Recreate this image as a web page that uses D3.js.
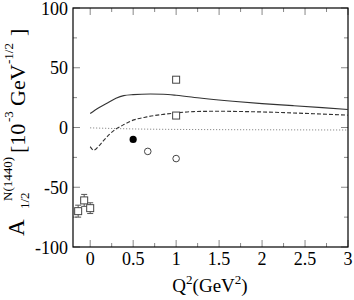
<!DOCTYPE html>
<html lang="en">
<head>
    <meta charset="UTF-8">
    <title>A1/2 N(1440)</title>
    <script src="https://d3js.org/d3.v7.min.js"></script>
    <style>
        body { margin: 0; background: #fff; }
        svg { font-family: "Liberation Serif", "DejaVu Serif", serif; }
    </style>
</head>
<body>
    <div id="container"></div>
    <script>
        // data
        const solidQ2 = [0, 0.1, 0.21, 0.3, 0.39, 0.5, 0.7, 0.85, 1.0, 1.3, 1.66, 2.0, 2.36, 2.7, 3.0];
        const solidA = [11.7, 16.5, 21, 24.5, 26.7, 27.5, 28, 27.8, 27, 24.5, 22, 20, 18.3, 16.6, 15];

        const dashQ2 = [0, 0.04, 0.1, 0.15, 0.22, 0.29, 0.38, 0.47, 0.66, 0.85, 1.0, 1.2, 1.5, 1.82, 2.2, 2.6, 3.0];
        const dashA = [-16, -19, -15.5, -11.4, -6, -1.7, 2, 5.3, 8.9, 11, 12.2, 13.3, 13.6, 13.3, 12.6, 11.5, 10.3];

        const dotQ2 = [0, 0.5, 1.0, 1.5, 2.0, 2.5, 3.0];
        const dotA = [-0.3, -1.2, -1.6, -1.8, -1.9, -2.0, -2.1];

        const squareQ2 = [-0.14, -0.07, 0, 1.0, 1.0];
        const squareA = [-70, -61, -67.5, 40, 10];
        const squareErr = [5, 5, 4.5, 0, 0];

        const filledQ2 = [0.5];
        const filledA = [-10];

        const openQ2 = [0.67, 1.0];
        const openA = [-20, -26];

        const xTicks = [0, 0.5, 1, 1.5, 2, 2.5, 3];
        const xMinor = [0.25, 0.75, 1.25, 1.75, 2.25, 2.75];
        const yTicks = [-100, -50, 0, 50, 100];
        const yMinor = [-75, -25, 25, 75];

        const width = 354, height = 300;
        const plotLeft = 73, plotRight = 348, plotTop = 8, plotBottom = 247;

        const svg = d3.select('#container').append('svg')
            .attr('width', width)
            .attr('height', height);

        const x = d3.scaleLinear().domain([-0.2, 3]).range([plotLeft, plotRight]);
        const y = d3.scaleLinear().domain([-100, 100]).range([plotBottom, plotTop]);

        // ticks, all pointing inward
        const tickColor = '#888';
        const drawXTicks = function(vals, len) {
            vals.forEach(v => {
                svg.append('line').attr('x1', x(v)).attr('x2', x(v))
                    .attr('y1', plotBottom).attr('y2', plotBottom - len)
                    .attr('stroke', tickColor).attr('stroke-width', 1);
                svg.append('line').attr('x1', x(v)).attr('x2', x(v))
                    .attr('y1', plotTop).attr('y2', plotTop + len)
                    .attr('stroke', tickColor).attr('stroke-width', 1);
            });
        };
        const drawYTicks = function(vals, len) {
            vals.forEach(v => {
                svg.append('line').attr('x1', plotLeft).attr('x2', plotLeft + len)
                    .attr('y1', y(v)).attr('y2', y(v))
                    .attr('stroke', tickColor).attr('stroke-width', 1);
                svg.append('line').attr('x1', plotRight).attr('x2', plotRight - len)
                    .attr('y1', y(v)).attr('y2', y(v))
                    .attr('stroke', tickColor).attr('stroke-width', 1);
            });
        };
        drawXTicks(xTicks, 7);
        drawXTicks(xMinor, 4);
        drawYTicks(yTicks, 7);
        drawYTicks(yMinor, 4);

        // frame
        svg.append('rect')
            .attr('x', plotLeft).attr('y', plotTop)
            .attr('width', plotRight - plotLeft).attr('height', plotBottom - plotTop)
            .attr('fill', 'none').attr('stroke', '#000').attr('stroke-width', 1.2);

        // tick labels
        svg.selectAll('.xlab').data(xTicks).enter().append('text')
            .attr('x', d => x(d))
            .attr('y', 265)
            .attr('text-anchor', 'middle')
            .attr('font-size', 18)
            .text(d => d);

        svg.selectAll('.ylab').data(yTicks).enter().append('text')
            .attr('x', 68)
            .attr('y', d => y(d) + 6.5)
            .attr('text-anchor', 'end')
            .attr('font-size', 18)
            .text(d => d);

        // x axis title
        const xt = svg.append('text')
            .attr('x', 210).attr('y', 292)
            .attr('text-anchor', 'middle')
            .attr('font-size', 19);
        xt.append('tspan').text('Q');
        xt.append('tspan').attr('font-size', 13).attr('dy', -8).text('2');
        xt.append('tspan').attr('dy', 8).text('(GeV');
        xt.append('tspan').attr('font-size', 13).attr('dy', -8).text('2');
        xt.append('tspan').attr('dy', 8).text(')');

        // y axis title, pieces placed along the rotated baseline
        const yTitle = [
            {t: 'A', bx: 24, sy: 236, fs: 23},
            {t: 'N(1440)', bx: 12, sy: 201, fs: 13},
            {t: '1/2', bx: 29, sy: 209, fs: 13},
            {t: '[10', bx: 25, sy: 153, fs: 22},
            {t: '-3', bx: 13, sy: 122, fs: 13},
            {t: 'GeV', bx: 25, sy: 106, fs: 22},
            {t: '-1/2', bx: 13, sy: 64, fs: 13},
            {t: ']', bx: 25, sy: 36, fs: 22}
        ];
        svg.selectAll('.ytitle').data(yTitle).enter().append('text')
            .attr('transform', d => 'translate(' + d.bx + ',' + d.sy + ') rotate(-90)')
            .attr('font-size', d => d.fs)
            .text(d => d.t);

        // curves
        const lineGen = d3.line()
            .x(d => x(d[0]))
            .y(d => y(d[1]))
            .curve(d3.curveMonotoneX);

        svg.append('path')
            .attr('d', lineGen(d3.zip(solidQ2, solidA)))
            .attr('fill', 'none').attr('stroke', '#333').attr('stroke-width', 1.1);

        svg.append('path')
            .attr('d', lineGen(d3.zip(dashQ2, dashA)))
            .attr('fill', 'none').attr('stroke', '#333').attr('stroke-width', 1.1)
            .attr('stroke-dasharray', '4,2');

        svg.append('path')
            .attr('d', lineGen(d3.zip(dotQ2, dotA)))
            .attr('fill', 'none').attr('stroke', '#777').attr('stroke-width', 1)
            .attr('stroke-dasharray', '1,2');

        // squares with error bars
        const squares = d3.zip(squareQ2, squareA, squareErr);
        squares.forEach(d => {
            const cx = x(d[0]), cy = y(d[1]);
            if (d[2] > 0) {
                svg.append('line')
                    .attr('x1', cx).attr('x2', cx)
                    .attr('y1', y(d[1] + d[2])).attr('y2', y(d[1] - d[2]))
                    .attr('stroke', '#555');
                [d[1] + d[2], d[1] - d[2]].forEach(v => {
                    svg.append('line')
                        .attr('x1', cx - 3).attr('x2', cx + 3)
                        .attr('y1', y(v)).attr('y2', y(v))
                        .attr('stroke', '#555');
                });
            }
            svg.append('rect')
                .attr('x', cx - 3.5).attr('y', cy - 3.5)
                .attr('width', 7).attr('height', 7)
                .attr('fill', '#fff').attr('stroke', '#444').attr('stroke-width', 1);
        });

        svg.selectAll('.filled').data(d3.zip(filledQ2, filledA)).enter().append('circle')
            .attr('cx', d => x(d[0])).attr('cy', d => y(d[1]))
            .attr('r', 3.6)
            .attr('fill', '#000');

        svg.selectAll('.open').data(d3.zip(openQ2, openA)).enter().append('circle')
            .attr('cx', d => x(d[0])).attr('cy', d => y(d[1]))
            .attr('r', 3.3)
            .attr('fill', '#fff').attr('stroke', '#444').attr('stroke-width', 1);
    </script>
</body>
</html>
